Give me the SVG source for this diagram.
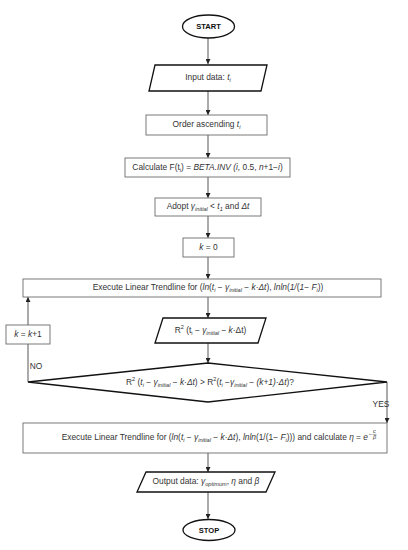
<svg xmlns="http://www.w3.org/2000/svg" width="408" height="550" viewBox="0 0 408 550">
<style>
.t{font-family:"Liberation Sans",Arial,sans-serif;font-size:8.4px;fill:#333;text-anchor:middle;dominant-baseline:middle}
.b{font-weight:bold;font-size:7.6px;fill:#111}
.i{font-style:italic}
.s{font-size:5.6px}
.box{fill:#fff;stroke:#6a6a6a;stroke-width:0.9}
.bold{fill:#fff;stroke:#111;stroke-width:1.3}
.c{stroke:#444;stroke-width:0.9;fill:none}
</style>
<defs>
<marker id="a" viewBox="0 0 10 10" refX="10" refY="5" markerWidth="5" markerHeight="5" orient="auto" markerUnits="userSpaceOnUse">
<path d="M0,0L10,5L0,10z" fill="#222"/>
</marker>
</defs>
<rect width="408" height="550" fill="#fff"/>
<g id="connectors">
<line class="c" x1="208" y1="38" x2="208" y2="64" marker-end="url(#a)"/>
<line class="c" x1="208" y1="91" x2="208" y2="115" marker-end="url(#a)"/>
<line class="c" x1="208" y1="135" x2="208" y2="158" marker-end="url(#a)"/>
<line class="c" x1="208" y1="177" x2="208" y2="198" marker-end="url(#a)"/>
<line class="c" x1="208" y1="216" x2="208" y2="238" marker-end="url(#a)"/>
<line class="c" x1="208" y1="257" x2="208" y2="279" marker-end="url(#a)"/>
<line class="c" x1="208" y1="297" x2="208" y2="318" marker-end="url(#a)"/>
<line class="c" x1="208" y1="343" x2="208" y2="363" marker-end="url(#a)"/>
<line class="c" x1="28" y1="382" x2="28" y2="344"/>
<line class="c" x1="28" y1="325" x2="28" y2="297" marker-end="url(#a)"/>
<line class="c" x1="387" y1="382" x2="387" y2="423" marker-end="url(#a)"/>
<line class="c" x1="208" y1="453" x2="208" y2="472" marker-end="url(#a)"/>
<line class="c" x1="208" y1="492" x2="208" y2="519" marker-end="url(#a)"/>
<text class="t" x="36" y="367">NO</text>
<text class="t" x="381" y="405">YES</text>
</g>
<g id="start">
<ellipse class="bold" cx="208.5" cy="26.5" rx="26" ry="11.5"/>
<text class="t b" x="208.5" y="27">START</text>
</g>
<g id="input">
<polygon class="bold" points="155,65 267,65 261,91 149,91"/>
<text class="t" x="208" y="78">Input data: <tspan class="i">t</tspan><tspan class="s i" baseline-shift="sub">i</tspan></text>
</g>
<g id="order">
<rect class="box" x="146" y="115" width="121" height="20"/>
<text class="t" x="206.5" y="125">Order ascending <tspan class="i">t</tspan><tspan class="s i" baseline-shift="sub">i</tspan></text>
</g>
<g id="calculate">
<rect class="box" x="125" y="158" width="165" height="19"/>
<text class="t" x="207.5" y="167.5">Calculate F(t<tspan class="s" baseline-shift="sub">i</tspan>) = <tspan class="i">BETA.INV (i, </tspan>0.5, <tspan class="i">n</tspan>+1−<tspan class="i">i</tspan>)</text>
</g>
<g id="adopt">
<rect class="box" x="155" y="198" width="106" height="18"/>
<text class="t" x="208" y="207">Adopt <tspan class="i">γ</tspan><tspan class="s i" baseline-shift="sub">initial</tspan> &lt; <tspan class="i">t</tspan><tspan class="s i" baseline-shift="sub">1</tspan> and <tspan class="i">Δt</tspan></text>
</g>
<g id="k0">
<rect class="box" x="183" y="238" width="51" height="19"/>
<text class="t" x="208.5" y="247.5"><tspan class="i">k</tspan> = 0</text>
</g>
<g id="execute1">
<rect class="box" x="23" y="279" width="358" height="18"/>
<text class="t" x="208" y="288">Execute Linear Trendline for (<tspan class="i">ln</tspan>(<tspan class="i">t</tspan><tspan class="s i" baseline-shift="sub">i</tspan> − <tspan class="i">γ</tspan><tspan class="s i" baseline-shift="sub">initial</tspan> − <tspan class="i">k</tspan>·<tspan class="i">Δt</tspan>), <tspan class="i">lnln</tspan>(<tspan class="i">1/</tspan>(<tspan class="i">1</tspan>− <tspan class="i">F</tspan><tspan class="s i" baseline-shift="sub">i</tspan>))</text>
</g>
<g id="r2">
<polygon class="bold" points="163,318 266,318 258,343 155,343"/>
<text class="t" x="210.5" y="330.5">R<tspan class="s" baseline-shift="super">2</tspan> (t<tspan class="s" baseline-shift="sub">i</tspan> − <tspan class="i">γ</tspan><tspan class="s i" baseline-shift="sub">initial</tspan> − <tspan class="i">k</tspan>·Δt)</text>
</g>
<g id="kplus">
<rect class="box" x="6" y="325" width="44" height="19"/>
<text class="t" x="28" y="334.5"><tspan class="i">k</tspan> = <tspan class="i">k</tspan>+1</text>
</g>
<g id="decision">
<polygon class="bold" points="28,382 208,363 387,382 208,402"/>
<text class="t" x="210" y="383">R<tspan class="s" baseline-shift="super">2</tspan> (<tspan class="i">t</tspan><tspan class="s i" baseline-shift="sub">i</tspan> − <tspan class="i">γ</tspan><tspan class="s i" baseline-shift="sub">initial</tspan> − <tspan class="i">k</tspan>·<tspan class="i">Δt</tspan>) &gt; R<tspan class="s" baseline-shift="super">2</tspan>(<tspan class="i">t</tspan><tspan class="s i" baseline-shift="sub">i</tspan> −<tspan class="i">γ</tspan><tspan class="s i" baseline-shift="sub">initial</tspan> − <tspan class="i">(k+1)</tspan>·<tspan class="i">Δt</tspan>)?</text>
</g>
<g id="execute2">
<rect class="box" x="23" y="423" width="364" height="30"/>
<text class="t" x="368" y="438" style="text-anchor:end">Execute Linear Trendline for (<tspan class="i">ln</tspan>(<tspan class="i">t</tspan><tspan class="s i" baseline-shift="sub">i</tspan> − <tspan class="i">γ</tspan><tspan class="s i" baseline-shift="sub">initial</tspan> − <tspan class="i">k</tspan>·<tspan class="i">Δt</tspan>), <tspan class="i">lnln</tspan>(1/(1− <tspan class="i">F</tspan><tspan class="s i" baseline-shift="sub">i</tspan>))) and calculate  <tspan class="i">η</tspan> = <tspan class="i">e</tspan></text>
<text class="t s" x="370.5" y="434.5">−</text>
<text class="t s i" x="374.5" y="431.5">c</text>
<line x1="372.5" y1="434.4" x2="376.5" y2="434.4" stroke="#333" stroke-width="0.4"/>
<text class="t s i" x="374.5" y="437.6">β</text>
</g>
<g id="output">
<polygon class="bold" points="146,472 275,472 266,492 137,492"/>
<text class="t" x="206" y="482">Output data: <tspan class="i">γ</tspan><tspan class="s i" baseline-shift="sub">optimum</tspan>, <tspan class="i">η</tspan> and <tspan class="i">β</tspan></text>
</g>
<g id="stop">
<ellipse class="bold" cx="209" cy="530" rx="26" ry="10.5"/>
<text class="t b" x="209" y="530.5">STOP</text>
</g>
</svg>
